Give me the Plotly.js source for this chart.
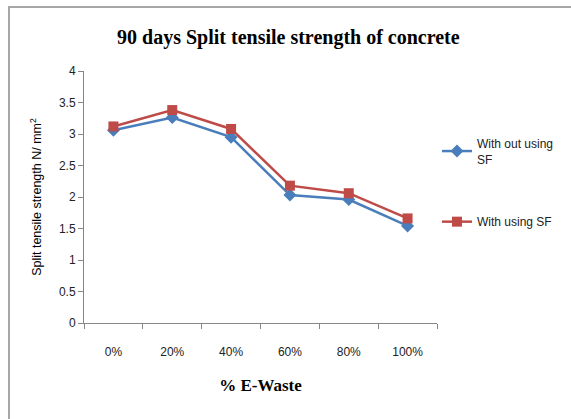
<!DOCTYPE html>
<html>
<head>
<meta charset="utf-8">
<script src="https://cdn.plot.ly/plotly-3.0.1.min.js"></script>
<style>
  html, body { margin: 0; padding: 0; background: #fff; }
  #frame { position: absolute; left: 8px; top: 6px; width: 563px; height: 413px;
           border-left: 2px solid #a6a6a6; border-top: 2px solid #a6a6a6; box-sizing: border-box; }
  #chart { position: absolute; left: 0; top: 0; width: 571px; height: 419px; }
</style>
</head>
<body>
<div id="frame"></div>
<div id="chart"></div>
<script>
const categories = ["0%", "20%", "40%", "60%", "80%", "100%"];
const withoutSF = [3.06, 3.26, 2.95, 2.03, 1.96, 1.54];
const withSF = [3.12, 3.38, 3.08, 2.18, 2.06, 1.66];
const seriesNames = ["With out using<br>SF", "With using SF"];

const traces = [
  {
    x: categories, y: withoutSF, name: seriesNames[0], type: "scatter", mode: "lines+markers",
    legendgroup: "a",
    line: { color: "#4a7ebb", width: 2.5 },
    marker: { symbol: "diamond", size: 10, color: "#4a7ebb" }
  },
  {
    x: categories, y: withSF, name: seriesNames[1], type: "scatter", mode: "lines+markers",
    legendgroup: "b",
    line: { color: "#be4b48", width: 2.5 },
    marker: { symbol: "square", size: 10, color: "#be4b48" }
  }
];

const layout = {
  width: 571, height: 419,
  margin: { l: 84, r: 128, t: 71, b: 96 },
  paper_bgcolor: "rgba(0,0,0,0)", plot_bgcolor: "rgba(0,0,0,0)",
  title: {
    text: "<b>90 days Split tensile strength of concrete</b>",
    font: { family: "Liberation Serif", size: 20, color: "#000" },
    x: 0.505, xanchor: "center", y: 0.912, yanchor: "middle"
  },
  xaxis: {
    type: "category", range: [-0.5, 5.5],
    showline: true, linecolor: "#868686", linewidth: 1,
    ticks: "outside", ticklen: 5, tickcolor: "#868686", tickson: "boundaries",
    showgrid: false, zeroline: false,
    ticklabelstandoff: 18,
    tickfont: { family: "Liberation Sans", size: 12, color: "#222" },
    title: { text: "<b>% E-Waste</b>", font: { family: "Liberation Serif", size: 17, color: "#000" }, standoff: 20 }
  },
  yaxis: {
    range: [0, 4], dtick: 0.5,
    showline: true, linecolor: "#868686", linewidth: 1,
    ticks: "outside", ticklen: 5, tickcolor: "#868686",
    showgrid: false, zeroline: false,
    tickfont: { family: "Liberation Sans", size: 12, color: "#222" },
    title: { text: "Split tensile strength N/ mm<sup>2</sup>", font: { family: "Liberation Sans", size: 12.5, color: "#000" }, standoff: 14 }
  },
  legend: {
    x: 1.0, xanchor: "left", y: 0.77, yanchor: "top",
    font: { family: "Liberation Sans", size: 12, color: "#222" },
    traceorder: "grouped",
    tracegroupgap: 44, bgcolor: "rgba(0,0,0,0)"
  },
  showlegend: true
};

Plotly.newPlot("chart", traces, layout, { displayModeBar: false, staticPlot: true });
</script>
</body>
</html>
